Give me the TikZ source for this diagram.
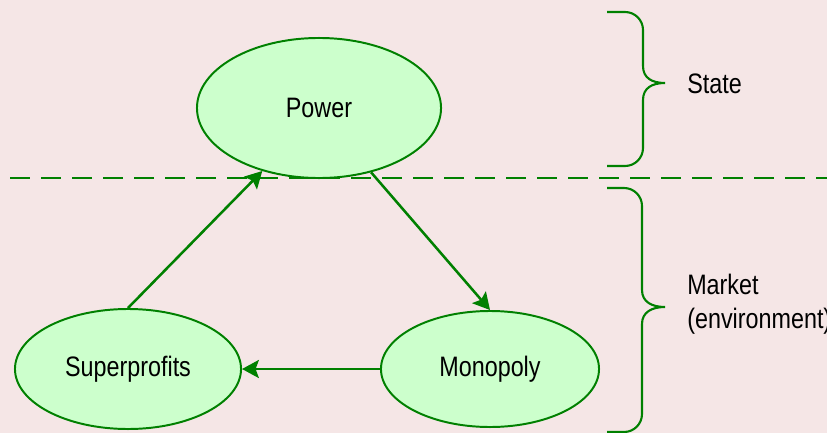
\documentclass[tikz,border=0pt]{standalone}
\usepackage{fontspec}
\setmainfont{Liberation Sans}[FakeStretch=0.83]
\usetikzlibrary{shapes.geometric, arrows.meta, positioning}
\definecolor{bgpink}{HTML}{F5E6E6}
\definecolor{leaf}{HTML}{CCFFCC}
\definecolor{darkgreen}{HTML}{008000}

\begin{document}
\begin{tikzpicture}[
    x=0.025cm, y=-0.025cm,
    every node/.style={font=\fontsize{20}{24}\selectfont},
    blob/.style={ellipse, draw=darkgreen, fill=leaf, line width=1.4pt, inner sep=0pt},
    arr/.style={-{Stealth[length=0.42cm, width=0.45cm, inset=0.08cm]}, draw=darkgreen, line width=1.8pt},
    brc/.style={draw=darkgreen, line width=1.5pt},
    lbl/.style={anchor=west, align=left, inner sep=0pt}
]
    % background and frame
    \fill[bgpink] (0,0) rectangle (827,433);
    \useasboundingbox (0,0) rectangle (827,433);

    % boundary between state and market
    \draw[darkgreen, line width=2.1pt, dash pattern=on 0.5cm off 0.275cm] (10,178) -- (827,178);

    % the three ellipses
    \node[blob, minimum width=6.1cm, minimum height=3.5cm] (power) at (319,108) {Power};
    \node[blob, minimum width=5.65cm, minimum height=3cm] (superprofits) at (128,369) {Superprofits};
    \node[blob, minimum width=5.45cm, minimum height=2.9cm] (monopoly) at (490,369) {Monopoly};

    \draw[arr] (power.-51) -- (monopoly.north);
    \draw[arr] (monopoly.west) -- (superprofits.east);
    \draw[arr] (superprofits.north) -- (power.-132);

    % brace: state
    \draw[brc] (607,12) -- (625,12) arc[start angle=90, end angle=0, radius=0.45cm]
        -- (643,66) .. controls (643,78) and (652,83) .. (665,83)
        .. controls (652,83) and (643,88) .. (643,100)
        -- (643,148) arc[start angle=0, end angle=-90, radius=0.45cm] -- (607,166);
    \node[lbl] (state) at (687,84) {State};

    % brace: market
    \draw[brc] (607,188) -- (624,188) arc[start angle=90, end angle=0, radius=0.45cm]
        -- (642,290) .. controls (642,302) and (652,307) .. (665,307)
        .. controls (652,307) and (642,312) .. (642,324)
        -- (642,414) arc[start angle=0, end angle=-90, radius=0.45cm] -- (607,432);
    \node[lbl] (market) at (687,304) {Market\\(environment)};
\end{tikzpicture}
\end{document}
